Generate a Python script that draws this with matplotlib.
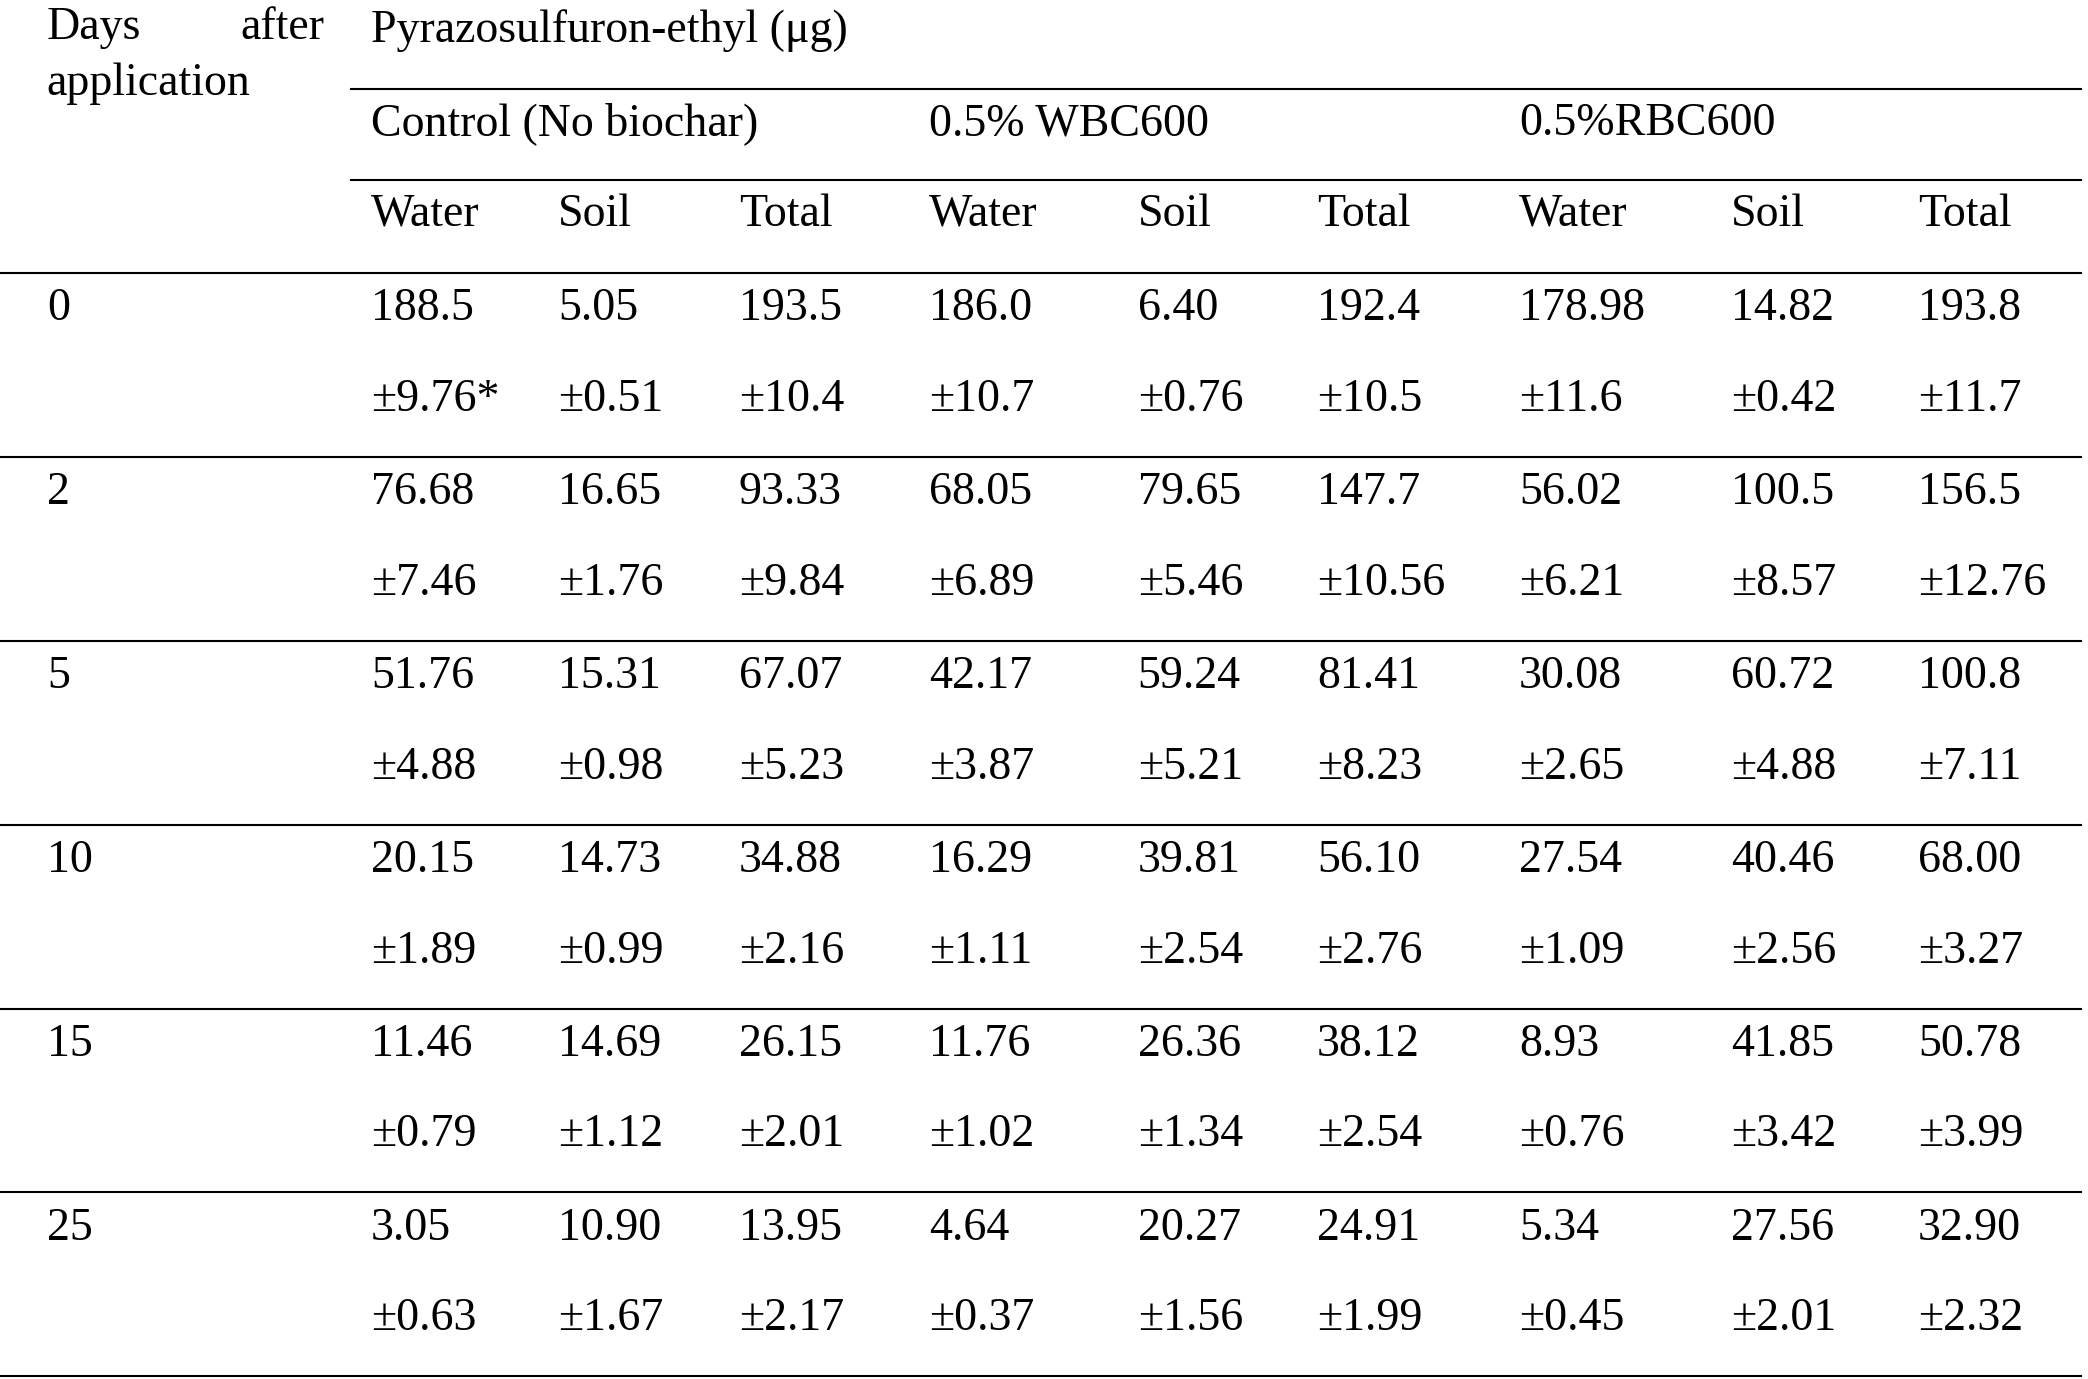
import matplotlib.pyplot as plt

days = ["0", "2", "5", "10", "15", "25"]
groups = ["Control (No biochar)", "0.5% WBC600", "0.5%RBC600"]
subcols = ["Water", "Soil", "Total"]
means = [
    ["188.5", "5.05", "193.5", "186.0", "6.40", "192.4", "178.98", "14.82", "193.8"],
    ["76.68", "16.65", "93.33", "68.05", "79.65", "147.7", "56.02", "100.5", "156.5"],
    ["51.76", "15.31", "67.07", "42.17", "59.24", "81.41", "30.08", "60.72", "100.8"],
    ["20.15", "14.73", "34.88", "16.29", "39.81", "56.10", "27.54", "40.46", "68.00"],
    ["11.46", "14.69", "26.15", "11.76", "26.36", "38.12", "8.93", "41.85", "50.78"],
    ["3.05", "10.90", "13.95", "4.64", "20.27", "24.91", "5.34", "27.56", "32.90"],
]
errors = [
    ["±9.76*", "±0.51", "±10.4", "±10.7", "±0.76", "±10.5", "±11.6", "±0.42", "±11.7"],
    ["±7.46", "±1.76", "±9.84", "±6.89", "±5.46", "±10.56", "±6.21", "±8.57", "±12.76"],
    ["±4.88", "±0.98", "±5.23", "±3.87", "±5.21", "±8.23", "±2.65", "±4.88", "±7.11"],
    ["±1.89", "±0.99", "±2.16", "±1.11", "±2.54", "±2.76", "±1.09", "±2.56", "±3.27"],
    ["±0.79", "±1.12", "±2.01", "±1.02", "±1.34", "±2.54", "±0.76", "±3.42", "±3.99"],
    ["±0.63", "±1.67", "±2.17", "±0.37", "±1.56", "±1.99", "±0.45", "±2.01", "±2.32"],
]

W, H = 1560, 1035
plt.rcParams['font.family'] = ['Liberation Serif', 'DejaVu Serif']
fig = plt.figure(figsize=(20.88, 13.79), dpi=100)
fs = 33


def txt(x, y, s, ha='left'):
    fig.text(x / W, 1 - (y + 3) / H, s, ha=ha, va='center', fontsize=fs)


def hline(x0, y):
    fig.add_artist(plt.Line2D([x0 / W, 1555 / W], [1 - y / H, 1 - y / H],
                              color='black', lw=1.5))


colx = [277, 417, 552, 694, 850, 984, 1135, 1293, 1433]
groupx = [277, 694, 1135]

txt(35, 18, "Days")
txt(242, 18, "after", ha='right')
txt(35, 60, "application")
txt(277, 20, "Pyrazosulfuron-ethyl (μg)")
hline(262, 67)
for g, x in zip(groups, groupx):
    txt(x, 90, g)
hline(262, 135)
for i, x in enumerate(colx):
    txt(x, 158, subcols[i % 3])
hline(0, 205)

y0 = 229
for r, d in enumerate(days):
    y = y0 + r * 138
    txt(35, y, d)
    for c, x in enumerate(colx):
        txt(x, y, means[r][c])
        txt(x, y + 68, errors[r][c])
    hline(0, y + 114)

fig.savefig("out.png", dpi=100, facecolor='white')
